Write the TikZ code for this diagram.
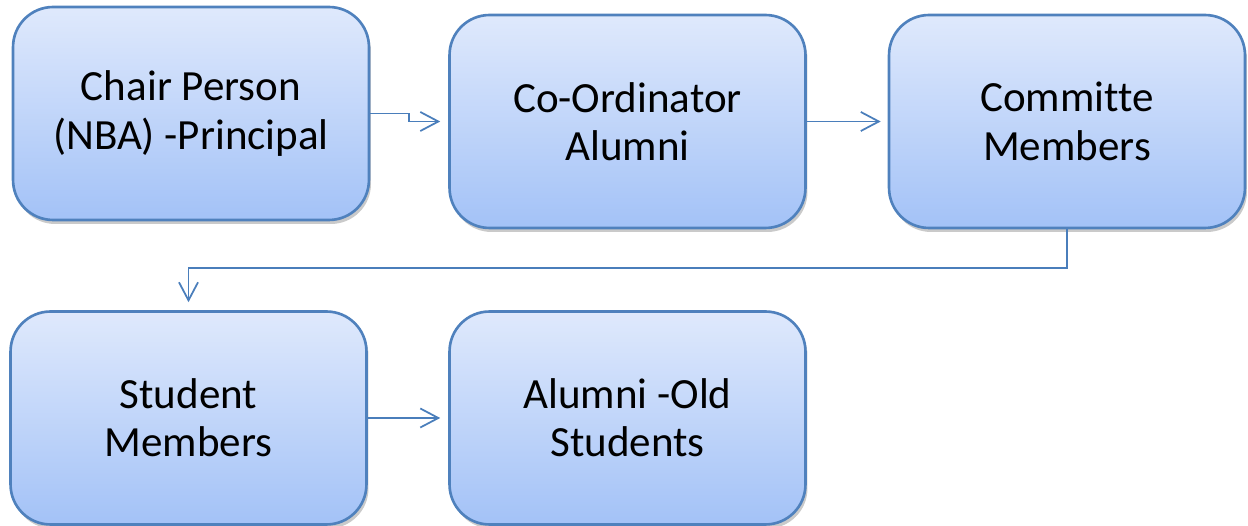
\documentclass[tikz,border=0pt]{standalone}
\usepackage{fontspec}
\setmainfont[Ligatures=NoCommon]{Carlito}
\usepackage{tikz}
\usetikzlibrary{arrows.meta,shadows}
\definecolor{boxline}{HTML}{4F81BD}
\definecolor{boxtop}{HTML}{DFE9FC}
\definecolor{boxbot}{HTML}{A3C2F7}
\definecolor{arrline}{HTML}{4A7EBB}

\begin{document}
\begin{tikzpicture}[x=0.02cm,y=-0.02cm,
    member/.style={draw=boxline, line width=1.5pt, rounded corners=0.8cm,
        top color=boxtop, bottom color=boxbot,
        minimum width=7.12cm, minimum height=4.26cm, align=center,
        font=\fontsize{24.5}{27.5}\selectfont,
        drop shadow={shadow xshift=0.04cm, shadow yshift=-0.08cm, opacity=0.35, fill=black!60}},
    link/.style={draw=arrline, line width=1pt, -{Straight Barb[length=3.6mm,width=3.8mm]}, shorten >=0.16cm}]
            \useasboundingbox (0,0) rectangle (1248,526);
            \node[member] (chair) at (191,113.5) {Chair Person\\(NBA) -Principal};
            \node[member] (coord) at (627.5,121.5) {Co-Ordinator\\Alumni};
            \node[member] (comm) at (1067,121.5) {Committe\\Members};
            \node[member] (stud) at (188.5,418) {Student\\Members};
            \node[member] (alum) at (627.5,418) {Alumni -Old\\Students};
            \draw[link] (chair.east) -- ++(39,0) |- (coord.west);
            \draw[link, shorten >=0.14cm] (coord.east) -- (comm.west);
            \draw[link] (comm.south) -- ++(0,39) -| (stud.north);
            \draw[link] (stud.east) -- (alum.west);
        \end{tikzpicture}
\end{document}
